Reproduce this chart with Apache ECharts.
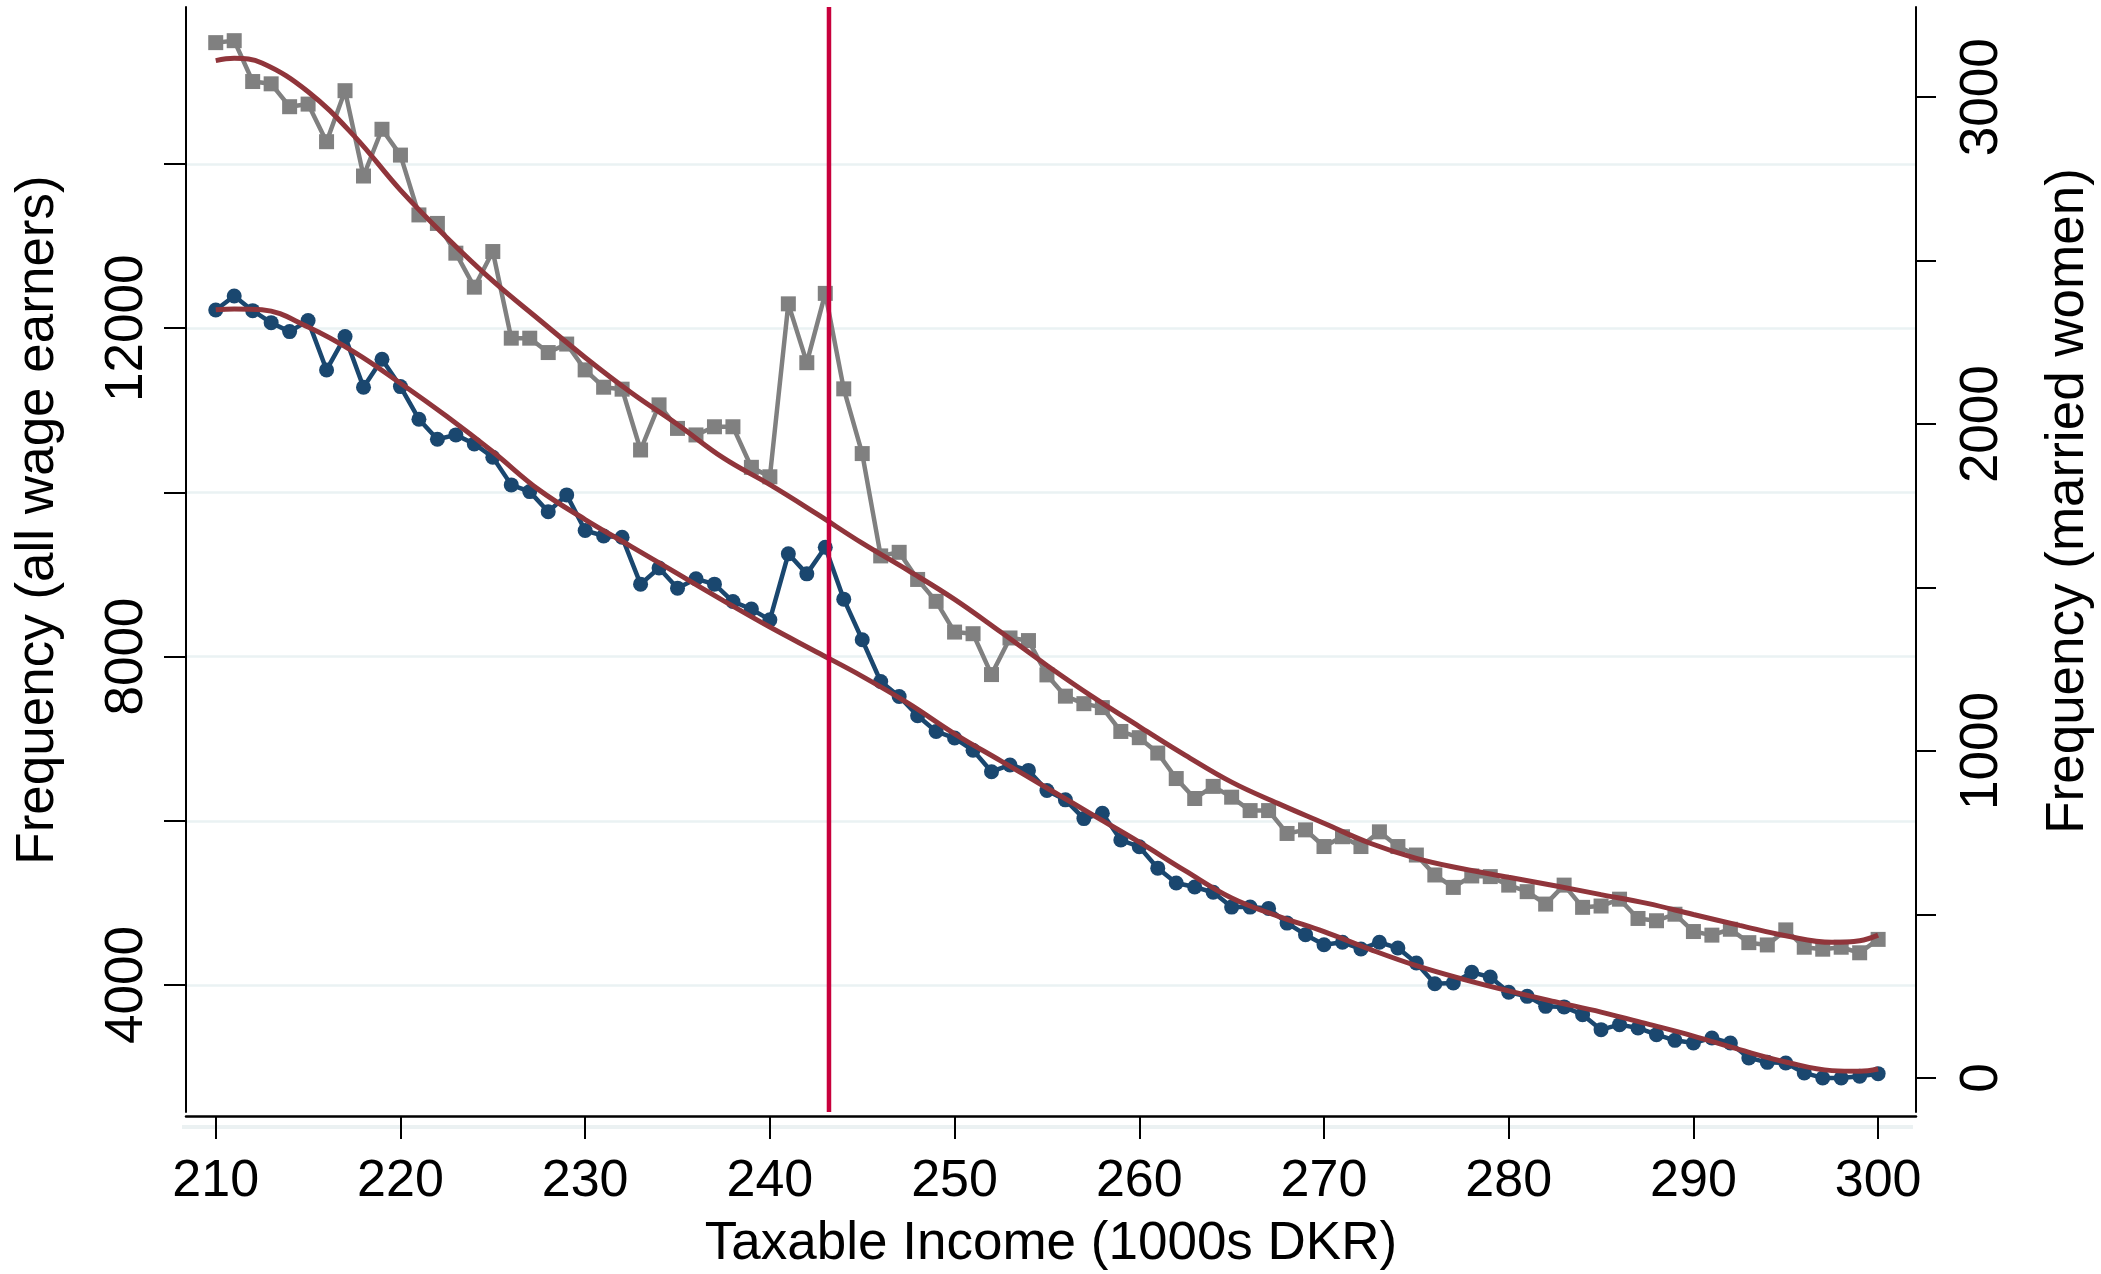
<!DOCTYPE html>
<html>
<head>
<meta charset="utf-8">
<script src="https://cdn.jsdelivr.net/npm/echarts@6/dist/echarts.min.js"></script>
<style>
html,body{margin:0;padding:0;background:#fff;}
#chart{width:2101px;height:1274px;}
</style>
</head>
<body>
<div id="chart"></div>
<script>
// ---- data ----
const incomeBins = [210,211,212,213,214,215,216,217,218,219,220,221,222,223,224,225,226,227,228,229,
  230,231,232,233,234,235,236,237,238,239,240,241,242,243,244,245,246,247,248,249,
  250,251,252,253,254,255,256,257,258,259,260,261,262,263,264,265,266,267,268,269,
  270,271,272,273,274,275,276,277,278,279,280,281,282,283,284,285,286,287,288,289,
  290,291,292,293,294,295,296,297,298,299,300];

const allWageEarners = [12223,12393,12214,12068,11959,12093,11492,11898,11282,11623,
  11289,10892,10648,10701,10591,10429,10092,10010,9764,9970,
  9536,9470,9454,8883,9079,8834,8948,8883,8671,8579,
  8448,9252,9008,9333,8700,8205,7697,7515,7279,7088,
  7008,6859,6598,6680,6614,6370,6255,6027,6092,5766,
  5684,5423,5243,5194,5129,4949,4949,4933,4754,4613,
  4491,4520,4439,4520,4451,4268,4016,4025,4154,4098,
  3911,3862,3740,3733,3639,3456,3517,3477,3395,3326,
  3294,3355,3294,3112,3058,3050,2929,2868,2868,2888,2920];

const marriedWomen = [3167,3173,3048,3041,2971,2979,2864,3020,2759,2902,
  2823,2640,2614,2523,2419,2528,2263,2263,2219,2245,
  2166,2113,2107,1921,2059,1987,1967,1992,1992,1868,
  1839,2368,2188,2400,2108,1910,1597,1608,1525,1458,
  1364,1359,1234,1346,1338,1233,1168,1145,1133,1060,
  1041,994,916,855,892,859,818,818,748,759,
  708,738,708,753,708,682,621,583,618,616,
  590,570,532,590,522,526,547,488,481,501,
  448,437,455,414,407,453,400,394,400,383,424];

const fitX = [210,211,212.5,215,217.5,220,222.5,225,227.5,230,232.5,235,237.5,240,242.5,245,247.5,250,
  252.5,255,257.5,260,262.5,265,267.5,270,272.5,275,277.5,280,282.5,285,287.5,290,292.5,295,297.5,299,300];
const fitAllWageEarners = [12225,12235,12225,12015,11710,11330,10927,10495,10031,9670,9340,9010,8680,8360,8060,7760,7430,7060,
  6730,6400,6070,5740,5390,5060,4840,4650,4433,4235,4072,3928,3796,3670,3526,3378,3212,3062,2957,2950,2977];
const fitMarriedWomen = [3112,3119,3105,3017,2881,2716,2571,2438,2320,2204,2096,1999,1896,1815,1727,1636,1552,1464,
  1364,1262,1165,1075,987,905,840,779,718,672,640,614,588,561,534,500,467,435,415,420,437];

const thresholdX = 243.2;

const xTicks = [210,220,230,240,250,260,270,280,290,300];
const leftTicks = [4000,6000,8000,10000,12000,14000];
const leftLabels = [4000,8000,12000];
const rightTicks = [0,500,1000,1500,2000,2500,3000];
const rightLabels = [0,1000,2000,3000];

const xRange = [208.39, 302.05];
const leftRange = [2453, 15913];
const rightRange = [-104, 3276];

// ---- chart ----
const FONT = '"Liberation Sans", Arial, Helvetica, sans-serif';
const chart = echarts.init(document.getElementById('chart'), null, {renderer: 'canvas'});

const pairs = (xs, ys) => xs.map((x, i) => [x, ys[i]]);

const option = {
  animation: false,
  backgroundColor: '#ffffff',
  grid: {left: 186, right: 185, top: 7, bottom: 162, containLabel: false},
  xAxis: {
    type: 'value', min: xRange[0], max: xRange[1], offset: 4,
    axisLine: {show: true, onZero: false, lineStyle: {color: '#000', width: 2.5}},
    axisTick: {show: true, customValues: xTicks, length: 23, lineStyle: {color: '#000', width: 2}},
    axisLabel: {show: true, customValues: xTicks, fontSize: 52, fontFamily: FONT, color: '#000', margin: 40,
      formatter: v => String(v)},
    splitLine: {show: false}
  },
  yAxis: [
    {
      type: 'value', position: 'left', min: leftRange[0], max: leftRange[1],
      axisLine: {show: true, onZero: false, lineStyle: {color: '#000', width: 2}},
      axisTick: {show: true, customValues: leftTicks, length: 22, lineStyle: {color: '#000', width: 2}},
      axisLabel: {show: true, customValues: leftLabels, rotate: 90, fontSize: 53, fontFamily: FONT, color: '#000',
        margin: 32, formatter: v => String(v)},
      splitLine: {show: true, lineStyle: {color: '#eaf2f3', width: 2.5}}
    },
    {
      type: 'value', position: 'right', min: rightRange[0], max: rightRange[1],
      axisLine: {show: true, onZero: false, lineStyle: {color: '#000', width: 2}},
      axisTick: {show: true, customValues: rightTicks, length: 20, lineStyle: {color: '#000', width: 2}},
      axisLabel: {show: true, customValues: rightLabels, rotate: 90, fontSize: 53, fontFamily: FONT, color: '#000',
        margin: 40, formatter: v => String(v)},
      splitLine: {show: false}
    }
  ],
  graphic: [
    {type: 'rect', silent: true, z: -1, shape: {x: 182, y: 1125, width: 1731, height: 4}, style: {fill: '#ebf1f2'}},
    {type: 'text', x: 38, y: 520, rotation: Math.PI / 2,
      style: {text: 'Frequency (all wage earners)', font: '53px ' + FONT, fill: '#000',
        textAlign: 'center', textVerticalAlign: 'middle', align: 'center', verticalAlign: 'middle'}},
    {type: 'text', x: 2068, y: 501, rotation: Math.PI / 2,
      style: {text: 'Frequency (married women)', font: '53px ' + FONT, fill: '#000',
        textAlign: 'center', textVerticalAlign: 'middle', align: 'center', verticalAlign: 'middle'}},
    {type: 'text', x: 1051, y: 1244,
      style: {text: 'Taxable Income (1000s DKR)', font: '53px ' + FONT, fill: '#000',
        textAlign: 'center', textVerticalAlign: 'middle', align: 'center', verticalAlign: 'middle'}}
  ],
  series: [
    {
      name: 'Married women', type: 'line', yAxisIndex: 1, z: 2,
      data: pairs(incomeBins, marriedWomen),
      symbol: 'rect', symbolSize: 15, showSymbol: true,
      itemStyle: {color: '#808080'},
      lineStyle: {color: '#808080', width: 4.5}
    },
    {
      name: 'All wage earners', type: 'line', yAxisIndex: 0, z: 3,
      data: pairs(incomeBins, allWageEarners),
      symbol: 'circle', symbolSize: 15, showSymbol: true,
      itemStyle: {color: '#1a476f'},
      lineStyle: {color: '#1a476f', width: 4.5}
    },
    {
      name: 'Fit married women', type: 'line', yAxisIndex: 1, z: 4,
      data: pairs(fitX, fitMarriedWomen), smooth: 0.4, symbol: 'none',
      lineStyle: {color: '#90353b', width: 5}
    },
    {
      name: 'Fit all wage earners', type: 'line', yAxisIndex: 0, z: 4,
      data: pairs(fitX, fitAllWageEarners), smooth: 0.4, symbol: 'none',
      lineStyle: {color: '#90353b', width: 5}
    },
    {
      name: 'Threshold', type: 'line', yAxisIndex: 0, z: 5,
      data: [[thresholdX, leftRange[0]], [thresholdX, leftRange[1]]], symbol: 'none',
      lineStyle: {color: '#c8003c', width: 4.5}
    }
  ]
};
chart.setOption(option);
</script>
</body>
</html>
